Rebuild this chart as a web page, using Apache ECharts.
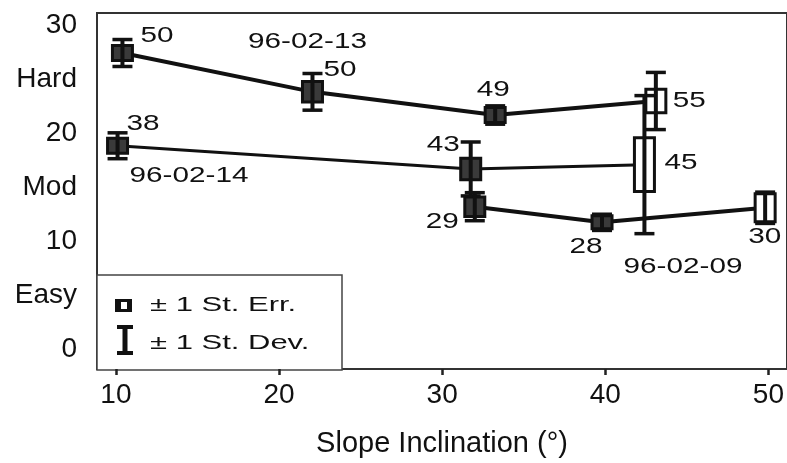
<!DOCTYPE html>
<html>
<head>
<meta charset="utf-8">
<script src="https://cdn.jsdelivr.net/npm/echarts@6/dist/echarts.min.js"></script>
<style>
html, body { margin: 0; padding: 0; background: #fff; }
#chart { width: 787px; height: 463px; }
</style>
</head>
<body>
<div id="chart"></div>
<script>
// survey dates
const seriesNames = ['96-02-13', '96-02-14', '96-02-09'];

// 96-02-13
const slope13 = [10.4, 22.05, 33.25, 43.1];
const score13 = [27.45, 23.85, 21.7, 23.0];
const se13 = [0.7, 0.95, 0.7, 1.1];
const sd13 = [1.25, 1.7, 0.85, 2.65];
const n13 = [50, 50, 49, 55];

// 96-02-14
const slope14 = [10.1, 31.75, 42.4];
const score14 = [18.85, 16.7, 17.1];
const se14 = [0.7, 1.0, 2.5];
const sd14 = [1.2, 2.5, 6.4];
const n14 = [38, 43, 45];

// 96-02-09
const slope09 = [32.0, 39.8, 49.8];
const score09 = [13.2, 11.75, 13.1];
const se09 = [0.9, 0.6, 1.3];
const sd09 = [1.3, 0.75, 1.45];
const n09 = [29, 28, 30];

const xTicks = [10, 20, 30, 40, 50];
const yTicks = [0, 5, 10, 15, 20, 25, 30];
const yTickLabels = ['0', 'Easy', '10', 'Mod', '20', 'Hard', '30'];

const FONT = '"Liberation Sans", Arial, Helvetica, sans-serif';
const INK = '#111';

const groups = [
    { slope: slope13, score: score13, se: se13, sd: sd13, n: n13 },
    { slope: slope14, score: score14, se: se14, sd: sd14, n: n14 },
    { slope: slope09, score: score09, se: se09, sd: sd09, n: n09 }
];

// where the count / date labels sit around their point, in px: [dx, dy, align]
const countLabelLayout = [
    [[18, -17, 'left'], [11, -22, 'left'], [-2, -25, 'center'], [17, 0, 'left']],
    [[9, -22, 'left'], [-11, -24, 'right'], [20, -2, 'left']],
    [[-16, 15, 'right'], [-16, 25, 'center'], [-17, 29, 'left']]
];
const nameLabelLayout = [[1, -5, -50, 'center'], [0, 12, 30, 'left'], [1, 81, 45, 'center']];

const zip = (xs, ys) => xs.map((x, i) => [x, ys[i]]);

const labelSpecs = [];
groups.forEach((g, gi) => {
    g.n.forEach((n, i) => {
        const l = countLabelLayout[gi][i];
        labelSpecs.push({ x: g.slope[i], y: g.score[i], text: String(n), dx: l[0], dy: l[1], align: l[2] });
    });
    const nl = nameLabelLayout[gi];
    labelSpecs.push({ x: g.slope[nl[0]], y: g.score[nl[0]], text: seriesNames[gi], dx: nl[1], dy: nl[2], align: nl[3] });
});

const seData = [], sdData = [];
groups.forEach(g => {
    g.slope.forEach((x, i) => {
        seData.push([x, g.score[i], g.se[i]]);
        sdData.push([x, g.score[i], g.sd[i]]);
    });
});

function renderSE(params, api) {
    const x = api.value(0), m = api.value(1), d = api.value(2);
    const top = api.coord([x, m + d]);
    const bot = api.coord([x, m - d]);
    const hw = 10;
    const h = bot[1] - top[1];
    return {
        type: 'rect',
        shape: { x: top[0] - hw, y: top[1], width: hw * 2, height: h },
        // small boxes print almost solid in the original
        style: { fill: h < 23 ? '#3a3a3a' : '#fff', stroke: INK, lineWidth: 3 }
    };
}

function renderSD(params, api) {
    const x = api.value(0), m = api.value(1), d = api.value(2);
    const top = api.coord([x, m + d]);
    const bot = api.coord([x, m - d]);
    const hw = 10;
    return {
        type: 'group',
        children: [
            { type: 'line', shape: { x1: top[0], y1: top[1], x2: bot[0], y2: bot[1] }, style: { stroke: INK, lineWidth: 4 } },
            { type: 'line', shape: { x1: top[0] - hw, y1: top[1], x2: top[0] + hw, y2: top[1] }, style: { stroke: INK, lineWidth: 3.5 } },
            { type: 'line', shape: { x1: bot[0] - hw, y1: bot[1], x2: bot[0] + hw, y2: bot[1] }, style: { stroke: INK, lineWidth: 3.5 } }
        ]
    };
}

function renderLabel(params, api) {
    const s = labelSpecs[params.dataIndex];
    const p = api.coord([s.x, s.y]);
    return {
        type: 'text',
        x: p[0] + s.dx,
        y: p[1] + s.dy,
        scaleX: 1.35,
        style: {
            text: s.text,
            font: '22px ' + FONT,
            fill: INK,
            align: s.align,
            verticalAlign: 'middle'
        }
    };
}

const chart = echarts.init(document.getElementById('chart'));

const lineSeries = groups.map((g, gi) => ({
    name: seriesNames[gi],
    type: 'line',
    data: zip(g.slope, g.score),
    symbol: 'none',
    silent: true,
    z: 2,
    lineStyle: { color: INK, width: gi === 1 ? 3 : 4 }
}));

chart.setOption({
    animation: false,
    backgroundColor: '#fff',
    grid: {
        left: 97, top: 13, right: -5, bottom: 93,
        show: true, borderColor: '#333', borderWidth: 2, backgroundColor: 'transparent'
    },
    xAxis: {
        type: 'value',
        min: 8.84,
        max: 51.14,
        axisLine: { show: false, onZero: false },
        splitLine: { show: false },
        axisTick: { show: true, customValues: xTicks, length: 6, lineStyle: { color: '#222', width: 2.5 } },
        axisLabel: { customValues: xTicks, fontSize: 28, fontFamily: FONT, color: INK, margin: 12 },
        name: 'Slope Inclination (°)',
        nameLocation: 'middle',
        nameGap: 60,
        nameTextStyle: { fontSize: 29, fontFamily: FONT, color: INK }
    },
    yAxis: {
        type: 'value',
        min: -1.85,
        max: 31.16,
        axisLine: { show: false },
        axisTick: { show: false },
        splitLine: { show: false },
        axisLabel: {
            customValues: yTicks,
            fontSize: 28,
            fontFamily: FONT,
            color: INK,
            margin: 20,
            formatter: v => yTickLabels[yTicks.indexOf(Math.round(v))]
        }
    },
    graphic: [
        {
            type: 'group',
            z: 10,
            children: [
                { type: 'rect', shape: { x: 97, y: 275, width: 245, height: 95 }, style: { fill: '#fff', stroke: '#444', lineWidth: 1.5 } },
                { type: 'rect', shape: { x: 115, y: 299, width: 17, height: 13 }, style: { fill: INK } },
                { type: 'rect', shape: { x: 121, y: 302, width: 6, height: 7 }, style: { fill: '#fff' } },
                { type: 'rect', shape: { x: 117, y: 325, width: 16, height: 4 }, style: { fill: INK } },
                { type: 'rect', shape: { x: 122.5, y: 325, width: 5, height: 30 }, style: { fill: INK } },
                { type: 'rect', shape: { x: 117, y: 351, width: 16, height: 4 }, style: { fill: INK } },
                { type: 'text', x: 150, y: 305, scaleX: 1.55, style: { text: '± 1 St. Err.', font: '20px ' + FONT, fill: INK, verticalAlign: 'middle' } },
                { type: 'text', x: 150, y: 343, scaleX: 1.55, style: { text: '± 1 St. Dev.', font: '20px ' + FONT, fill: INK, verticalAlign: 'middle' } }
            ]
        }
    ],
    series: lineSeries.concat([
        { name: '± 1 St. Err.', type: 'custom', renderItem: renderSE, data: seData, z: 3, silent: true },
        { name: '± 1 St. Dev.', type: 'custom', renderItem: renderSD, data: sdData, z: 4, silent: true },
        { name: 'labels', type: 'custom', renderItem: renderLabel, data: labelSpecs.map(s => [s.x, s.y]), z: 5, silent: true }
    ])
});
</script>
</body>
</html>
